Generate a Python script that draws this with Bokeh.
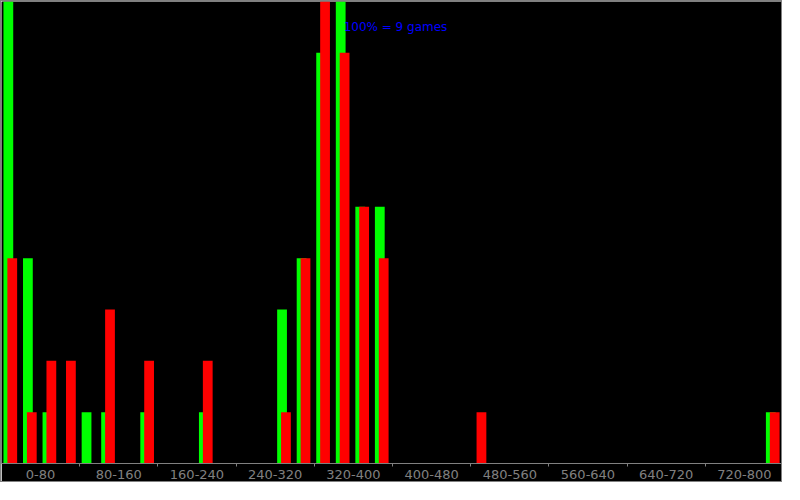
from bokeh.plotting import figure
from bokeh.models import Range1d, FixedTicker, Label, ColumnDataSource
from bokeh.embed import file_html
from bokeh.resources import INLINE

# ---- data ----
bin_width = 20
bin_starts = list(range(0, 800, bin_width))
green_counts = [9, 4, 1, 0, 1, 1, 0, 1, 0, 0,
                1, 0, 0, 0, 3, 4, 8, 9, 5, 5,
                0, 0, 0, 0, 0, 0, 0, 0, 0, 0,
                0, 0, 0, 0, 0, 0, 0, 0, 0, 1]
red_counts = [4, 1, 2, 2, 0, 3, 0, 2, 0, 0,
              2, 0, 0, 0, 1, 4, 9, 8, 5, 4,
              0, 0, 0, 0, 1, 0, 0, 0, 0, 0,
              0, 0, 0, 0, 0, 0, 0, 0, 0, 1]
tick_labels = ["0-80", "80-160", "160-240", "240-320", "320-400",
               "400-480", "480-560", "560-640", "640-720", "720-800"]
group_width = 80
max_games = 9

# ---- style ----
W, H = 782, 482
GRAY = "#808080"

p = figure(width=W, height=H, output_backend="svg", toolbar_location=None,
           x_range=Range1d(0, 800), y_range=Range1d(0, max_games),
           y_axis_location=None, background_fill_color="black",
           border_fill_color="black", outline_line_color=None,
           min_border_left=0, min_border_right=0, min_border_top=0,
           min_border_bottom=20)
p.styles = {"border": "1px solid " + GRAY}
p.grid.visible = False

green_src = ColumnDataSource(dict(x=[b + 7 for b in bin_starts], top=green_counts))
red_src = ColumnDataSource(dict(x=[b + 11 for b in bin_starts], top=red_counts))
p.vbar(x="x", top="top", width=10, bottom=0, source=green_src,
       fill_color="#00ff00", line_color=None)
p.vbar(x="x", top="top", width=10, bottom=0, source=red_src,
       fill_color="#ff0000", line_color=None)

centers = [group_width * i + group_width / 2 for i in range(len(tick_labels))]
bounds = [group_width * i for i in range(1, len(tick_labels))]
ax = p.xaxis[0]
ax.ticker = FixedTicker(ticks=centers, minor_ticks=bounds)
ax.major_label_overrides = {c: t for c, t in zip(centers, tick_labels)}
ax.major_tick_line_color = None
ax.major_tick_out = 0
ax.major_tick_in = 0
ax.minor_tick_line_color = GRAY
ax.minor_tick_out = 3
ax.minor_tick_in = 0
ax.axis_line_color = GRAY
ax.major_label_text_color = GRAY
ax.major_label_text_font = "DejaVu Sans"
ax.major_label_text_font_size = "13px"
ax.major_label_standoff = 3

p.add_layout(Label(x=350, y=max_games - 0.5, text=f"100% = {max_games} games",
                   text_color="#0000ff", text_font="DejaVu Sans",
                   text_font_size="12px", text_baseline="middle"))

open("out.html", "w").write(file_html(p, INLINE))
